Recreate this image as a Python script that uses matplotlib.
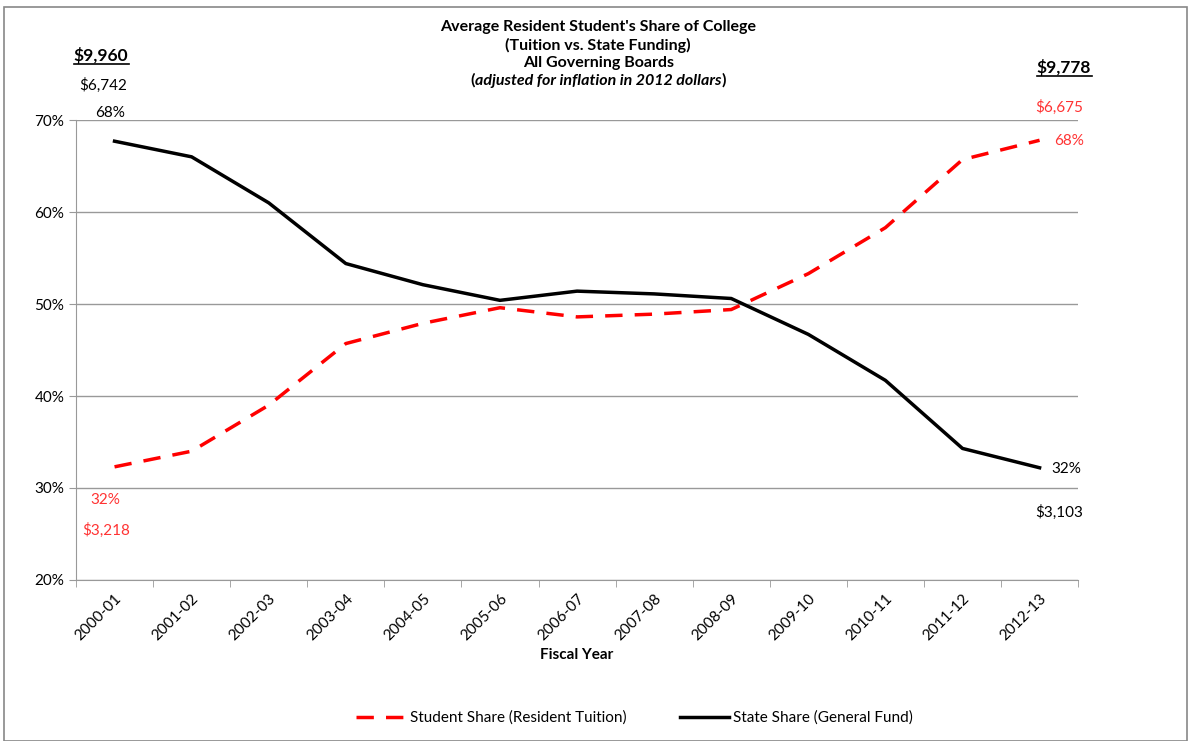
import numpy as np
import matplotlib.pyplot as plt
from matplotlib.patches import Rectangle

plt.rcParams['font.family'] = ['Lato', 'DejaVu Sans']

years = ['2000-01', '2001-02', '2002-03', '2003-04', '2004-05', '2005-06', '2006-07',
         '2007-08', '2008-09', '2009-10', '2010-11', '2011-12', '2012-13']
student_share = [32.3, 34.0, 39.0, 45.7, 47.9, 49.6, 48.6, 48.9, 49.4, 53.3, 58.3, 65.7, 67.8]
state_share = [67.7, 66.0, 61.0, 54.4, 52.1, 50.4, 51.4, 51.1, 50.6, 46.7, 41.7, 34.3, 32.2]

fig = plt.figure(figsize=(11.93, 7.41), dpi=100)
fig.patches.append(Rectangle((0.003, 0.0), 0.992, 0.99, transform=fig.transFigure,
                             fill=False, edgecolor='#888888', linewidth=1.2))
ax = fig.add_axes([0.0637, 0.2173, 0.84, 0.6207])

x = np.arange(len(years))
ax.plot(x, student_share, color='#ff0000', linestyle=(0, (5, 3.5)), linewidth=2.5,
        label='Student Share (Resident Tuition)')
ax.plot(x, state_share, color='black', linewidth=2.5, label='State Share (General Fund)')

ax.set_xlim(-0.5, len(years) - 0.5)
ax.set_ylim(20, 70)
ax.set_yticks([20, 30, 40, 50, 60, 70])
ax.set_yticklabels([f'{v}%' for v in [20, 30, 40, 50, 60, 70]], fontsize=11)
ax.yaxis.grid(True, color='#999999', linewidth=1)
ax.set_axisbelow(True)
ax.set_xticks(x)
ax.set_xticklabels(years, rotation=45, ha='right', rotation_mode='anchor', fontsize=11)
ax.tick_params(axis='x', which='major', length=0, pad=8)
ax.set_xticks(np.arange(-0.5, len(years), 1), minor=True)
ax.tick_params(axis='x', which='minor', length=5, color='#999999')
ax.tick_params(axis='y', length=5, color='#999999')
for s in ['top', 'right']:
    ax.spines[s].set_visible(False)
for s in ['left', 'bottom']:
    ax.spines[s].set_color('#999999')
ax.set_xlabel('Fiscal Year', fontsize=11, fontweight='bold', labelpad=4)

# title
tx = 0.5015
fig.text(tx, 0.963, "Average Resident Student's Share of College", ha='center', va='center',
         fontsize=11.5, fontweight='bold')
fig.text(tx, 0.939, "(Tuition vs. State Funding)", ha='center', va='center',
         fontsize=11.5, fontweight='bold')
fig.text(tx, 0.915, "All Governing Boards", ha='center', va='center',
         fontsize=11.5, fontweight='bold')
mid = fig.text(tx, 0.891, "adjusted for inflation in 2012 dollars", ha='center', va='center',
               fontsize=11.5, fontweight='bold', style='italic')
ax.annotate('(', xy=(0, 0.5), xycoords=mid, ha='right', va='center',
            fontsize=11.5, fontweight='bold', annotation_clip=False)
ax.annotate(')', xy=(1, 0.5), xycoords=mid, ha='left', va='center',
            fontsize=11.5, fontweight='bold', annotation_clip=False)

# annotations
def px(xp, yp):
    return xp / 1193, 1 - yp / 741

fig.text(*px(101, 55), '$9,960', ha='center', va='center', fontsize=12.5, fontweight='bold')
fig.text(*px(103, 85), '$6,742', ha='center', va='center', fontsize=11)
fig.text(*px(110, 113), '68%', ha='center', va='center', fontsize=11)
fig.text(*px(1064, 67), '$9,778', ha='center', va='center', fontsize=12.5, fontweight='bold')
fig.text(*px(1059, 107), '$6,675', ha='center', va='center', fontsize=11, color='#ff3333')
fig.text(*px(1069, 141), '68%', ha='center', va='center', fontsize=11, color='#ff3333')
fig.text(*px(1066, 469), '32%', ha='center', va='center', fontsize=11)
fig.text(*px(1059, 512), '$3,103', ha='center', va='center', fontsize=11)
fig.text(*px(105, 500), '32%', ha='center', va='center', fontsize=11, color='#ff3333')
fig.text(*px(106, 530), '$3,218', ha='center', va='center', fontsize=11, color='#ff3333')

# underlines for the totals
fig.add_artist(plt.Line2D([74 / 1193, 129 / 1193], [1 - 64 / 741] * 2, color='black', linewidth=1.2))
fig.add_artist(plt.Line2D([1037 / 1193, 1092 / 1193], [1 - 76 / 741] * 2, color='black', linewidth=1.2))

fig.legend(loc='center', bbox_to_anchor=(0.532, 0.031), ncol=2, frameon=False, fontsize=11,
           handlelength=3.2, columnspacing=3.5, handletextpad=0.3)

fig.savefig('out.png', dpi=100)
